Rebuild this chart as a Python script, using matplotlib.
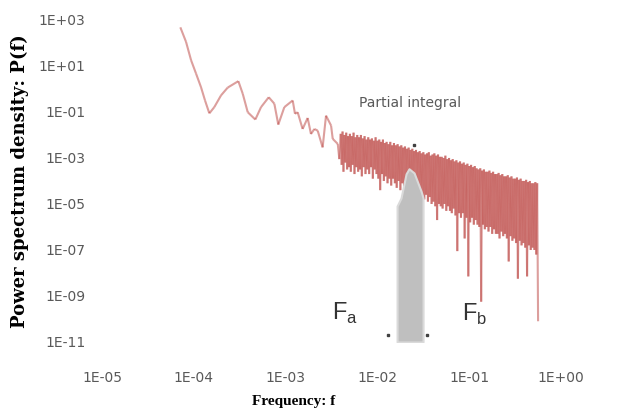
import numpy as np
import matplotlib.pyplot as plt
from matplotlib.collections import LineCollection

# low frequency part of the spectrum (log10 f, log10 P)
low_logf = [-4.147, -4.085, -4.030, -3.976, -3.922, -3.878, -3.831, -3.777, -3.704, -3.631,
            -3.515, -3.467, -3.413, -3.330, -3.268, -3.184, -3.123, -3.080, -3.014, -2.923,
            -2.898, -2.869, -2.815, -2.760, -2.724, -2.687, -2.651, -2.597, -2.560, -2.505,
            -2.487, -2.432, -2.415]
low_logp = [2.68, 2.05, 1.25, 0.67, 0.08, -0.50, -1.06, -0.79, -0.28, 0.06,
            0.34, -0.21, -1.01, -1.33, -0.79, -0.36, -0.64, -1.55, -0.79, -0.50,
            -1.08, -1.01, -1.74, -1.26, -1.96, -1.74, -1.81, -2.54, -1.16, -1.59,
            -2.17, -2.39, -3.05]

# noisy high frequency part (log10 f, log10 P)
band_logf = [-2.40, -2.39, -2.38, -2.37, -2.36, -2.35, -2.34, -2.33, -2.32, -2.31,
             -2.30, -2.29, -2.28, -2.27, -2.26, -2.25, -2.24, -2.23, -2.22, -2.21,
             -2.20, -2.19, -2.18, -2.17, -2.16, -2.15, -2.14, -2.13, -2.12, -2.11,
             -2.10, -2.09, -2.08, -2.07, -2.06, -2.05, -2.04, -2.03, -2.02, -2.01,
             -2.00, -1.99, -1.98, -1.97, -1.96, -1.95, -1.94, -1.93, -1.92, -1.91,
             -1.90, -1.89, -1.88, -1.87, -1.86, -1.85, -1.84, -1.83, -1.82, -1.81,
             -1.80, -1.79, -1.78, -1.77, -1.76, -1.75, -1.74, -1.73, -1.72, -1.71,
             -1.70, -1.69, -1.68, -1.67, -1.66, -1.65, -1.64, -1.63, -1.62, -1.61,
             -1.60, -1.59, -1.58, -1.57, -1.56, -1.55, -1.54, -1.53, -1.52, -1.51,
             -1.50, -1.49, -1.48, -1.47, -1.46, -1.45, -1.44, -1.43, -1.42, -1.41,
             -1.40, -1.39, -1.38, -1.37, -1.36, -1.35, -1.34, -1.33, -1.32, -1.31,
             -1.30, -1.29, -1.28, -1.27, -1.26, -1.25, -1.24, -1.23, -1.22, -1.21,
             -1.20, -1.19, -1.18, -1.17, -1.16, -1.15, -1.14, -1.13, -1.12, -1.11,
             -1.10, -1.09, -1.08, -1.07, -1.06, -1.05, -1.04, -1.03, -1.02, -1.01,
             -1.00, -0.99, -0.98, -0.97, -0.96, -0.95, -0.94, -0.93, -0.92, -0.91,
             -0.90, -0.89, -0.88, -0.87, -0.86, -0.85, -0.84, -0.83, -0.82, -0.81,
             -0.80, -0.79, -0.78, -0.77, -0.76, -0.75, -0.74, -0.73, -0.72, -0.71,
             -0.70, -0.69, -0.68, -0.67, -0.66, -0.65, -0.64, -0.63, -0.62, -0.61,
             -0.60, -0.59, -0.58, -0.57, -0.56, -0.55, -0.54, -0.53, -0.52, -0.51,
             -0.50, -0.49, -0.48, -0.47, -0.46, -0.45, -0.44, -0.43, -0.42, -0.41,
             -0.40, -0.39, -0.38, -0.37, -0.36, -0.35, -0.34, -0.33, -0.32, -0.31,
             -0.30, -0.29, -0.28, -0.27, -0.26, -0.25]
band_logp = [-1.95, -3.3, -1.85, -3.6, -2.0, -3.2, -1.9, -3.5, -2.05, -3.4,
             -1.95, -3.6, -2.05, -3.3, -1.9, -3.7, -2.1, -3.4, -2.0, -3.6,
             -2.1, -3.5, -2.0, -3.8, -2.15, -3.4, -2.05, -3.7, -2.2, -3.5,
             -2.1, -3.7, -2.2, -3.4, -2.15, -3.9, -2.25, -3.5, -2.1, -3.7,
             -2.25, -3.9, -2.2, -4.4, -2.3, -3.7, -2.2, -4.0, -2.35, -3.8,
             -2.3, -4.1, -2.4, -3.9, -2.3, -4.2, -2.45, -3.9, -2.35, -4.1,
             -2.45, -4.3, -2.4, -4.0, -2.5, -4.4, -2.45, -4.1, -2.55, -4.3,
             -2.5, -4.2, -2.6, -4.5, -2.55, -4.2, -2.65, -4.4, -2.6, -4.3,
             -2.7, -4.5, -2.65, -4.3, -2.75, -4.6, -2.7, -4.4, -2.8, -4.6,
             -2.75, -4.8, -2.85, -4.6, -2.8, -4.9, -2.75, -4.7, -2.9, -5.0,
             -2.85, -4.9, -2.8, -5.1, -2.9, -5.7, -2.85, -5.0, -2.95, -5.1,
             -2.95, -5.2, -3.0, -5.0, -2.9, -5.3, -3.05, -5.1, -3.0, -5.3,
             -3.1, -5.4, -3.05, -5.2, -3.15, -5.5, -3.1, -7.05, -3.2, -5.4,
             -3.15, -5.6, -3.25, -5.4, -3.2, -6.5, -3.3, -5.6, -3.25, -8.15,
             -3.35, -5.8, -3.3, -5.6, -3.4, -5.9, -3.35, -5.7, -3.45, -5.9,
             -3.5, -6.0, -3.45, -9.25, -3.55, -5.9, -3.5, -6.1, -3.6, -6.0,
             -3.6, -6.2, -3.55, -6.0, -3.65, -6.3, -3.6, -6.1, -3.7, -6.3,
             -3.7, -6.3, -3.65, -6.5, -3.75, -6.2, -3.7, -6.4, -3.8, -6.3,
             -3.8, -6.5, -3.75, -7.5, -3.85, -6.4, -3.8, -6.6, -3.9, -6.5,
             -3.9, -6.7, -3.85, -8.25, -3.95, -6.6, -3.9, -6.8, -4.0, -6.7,
             -4.0, -6.9, -3.95, -8.15, -4.05, -6.8, -4.0, -7.0, -4.1, -6.9,
             -4.1, -7.0, -4.05, -7.2, -4.1, -10.1]

# partial integral between Fa and Fb
fill_logf = [-1.786, -1.743, -1.688, -1.656, -1.601, -1.525, -1.503]
fill_logp = [-5.09, -4.74, -3.69, -3.47, -3.65, -4.44, -4.74]
limit_logf = [-1.885, -1.460]
limit_logp = [-10.7, -10.7]

xticks = [1e-5, 1e-4, 1e-3, 1e-2, 1e-1, 1e0]
xlabels = ["1E-05", "1E-04", "1E-03", "1E-02", "1E-01", "1E+00"]
yticks = [1e-11, 1e-9, 1e-7, 1e-5, 1e-3, 1e-1, 1e1, 1e3]
ylabels = ["1E-11", "1E-09", "1E-07", "1E-05", "1E-03", "1E-01", "1E+01", "1E+03"]

freq = 10 ** np.array(low_logf + band_logf)
psd = 10 ** np.array(low_logp + band_logp)

fig = plt.figure(figsize=(6.24, 4.16), dpi=100)
ax = fig.add_axes([0.1635, 0.178, 0.7356, 0.774])
ax.set_xscale('log')
ax.set_yscale('log')

# draw each segment on its own so overlapping noise builds up to a solid band
pts = np.column_stack([freq, psd])
segs = np.stack([pts[:-1], pts[1:]], axis=1)
lc = LineCollection(segs, colors='#c0504d', alpha=0.55, linewidths=1.5,
                    capstyle='butt', zorder=2)
ax.add_collection(lc)

ax.fill_between(10 ** np.array(fill_logf), 1e-11, 10 ** np.array(fill_logp),
                facecolor='#bfbfbf', edgecolor='#dadada', lw=1.5, zorder=3)
ax.plot(10 ** np.array(limit_logf), 10 ** np.array(limit_logp), 's',
        color='#404040', ms=2, zorder=4)
ax.plot([10 ** -1.601], [10 ** -2.42], 's', color='#404040', ms=1.5, zorder=4)

ax.set_xlim(1e-5, 1)
ax.set_ylim(1e-11, 1e3)
ax.set_xticks(xticks)
ax.set_xticklabels(xlabels)
ax.set_yticks(yticks)
ax.set_yticklabels(ylabels)
ax.minorticks_off()
ax.tick_params(axis='x', length=0, pad=21, labelsize=10, labelcolor='#595959')
ax.tick_params(axis='y', length=0, pad=12, labelsize=10, labelcolor='#595959')
for s in ax.spines.values():
    s.set_visible(False)

ax.text(10 ** -1.65, 10 ** -0.6, "Partial integral", ha='center', va='center',
        fontsize=10, color='#595959')
ax.text(10 ** -2.495, 10 ** -10.04, r"F$_\mathregular{a}$", fontsize=17, color='#333333',
        ha='left', va='baseline', family='Liberation Sans')
ax.text(10 ** -1.08, 10 ** -10.09, r"F$_\mathregular{b}$", fontsize=17, color='#333333',
        ha='left', va='baseline', family='Liberation Sans')

fig.text(0.032, 0.565, "Power spectrum density: P(f)", rotation=90, ha='center',
         va='center', fontsize=13, fontweight='bold', family='DejaVu Serif')
fig.text(0.47, 0.034, "Frequency: f", ha='center', va='center', fontsize=11,
         fontweight='bold', family='Liberation Serif')

fig.savefig('out.png', dpi=100)
